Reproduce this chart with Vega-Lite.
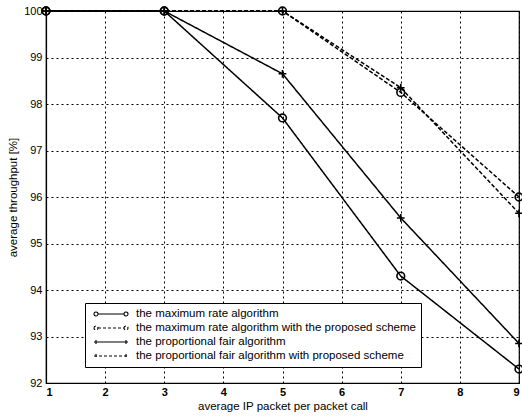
{
  "$schema": "https://vega.github.io/schema/vega-lite/v6.json",
  "autosize": "none",
  "width": 473,
  "height": 372,
  "padding": {"left": 46, "top": 11, "right": 3, "bottom": 37},
  "background": "white",
  "config": {
    "font": "Liberation Sans",
    "view": {"stroke": "black", "strokeWidth": 1.2},
    "axis": {
      "labelFont": "Liberation Sans",
      "titleFont": "Liberation Sans",
      "labelFontSize": 11,
      "titleFontSize": 11.5,
      "titleFontWeight": "normal",
      "labelColor": "black",
      "titleColor": "black",
      "domainColor": "black",
      "domainWidth": 1.2,
      "grid": true,
      "gridColor": "black",
      "gridOpacity": 1,
      "gridDash": [2, 3],
      "gridWidth": 1,
      "ticks": false
    }
  },
  "data": {
    "values": [
      {"series": "the maximum rate algorithm", "x": 1, "y": 100},
      {"series": "the maximum rate algorithm", "x": 3, "y": 100},
      {"series": "the maximum rate algorithm", "x": 5, "y": 97.7},
      {"series": "the maximum rate algorithm", "x": 7, "y": 94.3},
      {"series": "the maximum rate algorithm", "x": 9, "y": 92.3},
      {"series": "the maximum rate algorithm with the proposed scheme", "x": 1, "y": 100},
      {"series": "the maximum rate algorithm with the proposed scheme", "x": 3, "y": 100},
      {"series": "the maximum rate algorithm with the proposed scheme", "x": 5, "y": 100},
      {"series": "the maximum rate algorithm with the proposed scheme", "x": 7, "y": 98.25},
      {"series": "the maximum rate algorithm with the proposed scheme", "x": 9, "y": 96.0},
      {"series": "the proportional fair algorithm", "x": 1, "y": 100},
      {"series": "the proportional fair algorithm", "x": 3, "y": 100},
      {"series": "the proportional fair algorithm", "x": 5, "y": 98.65},
      {"series": "the proportional fair algorithm", "x": 7, "y": 95.55},
      {"series": "the proportional fair algorithm", "x": 9, "y": 92.85},
      {"series": "the proportional fair algorithm with proposed scheme", "x": 1, "y": 100},
      {"series": "the proportional fair algorithm with proposed scheme", "x": 3, "y": 100},
      {"series": "the proportional fair algorithm with proposed scheme", "x": 5, "y": 100},
      {"series": "the proportional fair algorithm with proposed scheme", "x": 7, "y": 98.35},
      {"series": "the proportional fair algorithm with proposed scheme", "x": 9, "y": 95.65}
    ]
  },
  "encoding": {
    "x": {
      "field": "x", "type": "quantitative",
      "scale": {"domain": [1, 9], "nice": false, "zero": false},
      "axis": {"values": [1, 2, 3, 4, 5, 6, 7, 8, 9], "title": "average IP packet per packet call", "labelPadding": 3, "titlePadding": 3, "labelFontWeight": "bold"}
    },
    "y": {
      "field": "y", "type": "quantitative",
      "scale": {"domain": [92, 100], "nice": false, "zero": false},
      "axis": {"values": [92, 93, 94, 95, 96, 97, 98, 99, 100], "title": "average throughput [%]", "labelPadding": 4, "titlePadding": 5}
    }
  },
  "layer": [
    {
      "mark": {"type": "line", "color": "black", "strokeWidth": 1.5},
      "encoding": {
        "detail": {"field": "series"},
        "strokeDash": {
          "field": "series", "type": "nominal",
          "scale": {
            "domain": ["the maximum rate algorithm", "the maximum rate algorithm with the proposed scheme", "the proportional fair algorithm", "the proportional fair algorithm with proposed scheme"],
            "range": [[1, 0], [4, 2], [1, 0], [4, 2]]
          },
          "legend": null
        }
      }
    },
    {
      "mark": {"type": "point", "color": "black", "filled": false, "strokeWidth": 1.6, "opacity": 1},
      "encoding": {
        "shape": {
          "field": "series", "type": "nominal",
          "scale": {
            "domain": ["the maximum rate algorithm", "the maximum rate algorithm with the proposed scheme", "the proportional fair algorithm", "the proportional fair algorithm with proposed scheme"],
            "range": ["circle", "circle", "M-1,0L1,0M0,-1L0,1", "M-1,0L1,0M0,-1L0,1"]
          },
          "legend": null
        },
        "size": {"value": 60}
      }
    },
    {
      "transform": [{"filter": "datum.x > 100"}],
      "mark": {"type": "point", "color": "black", "filled": false, "strokeWidth": 1.1, "opacity": 1},
      "encoding": {
        "shape": {
          "field": "series", "type": "nominal",
          "scale": {
            "domain": ["the maximum rate algorithm", "the maximum rate algorithm with the proposed scheme", "the proportional fair algorithm", "the proportional fair algorithm with proposed scheme"],
            "range": [
              "M0.4,0L5.6,0M-0.4,0A0.4,0.4 0 1,1 0.4,0A0.4,0.4 0 1,1 -0.4,0M5.6,0A0.4,0.4 0 1,1 6.4,0A0.4,0.4 0 1,1 5.6,0",
              "M0.4,0L5.6,0M-0.4,0A0.4,0.4 0 1,1 0.4,0A0.4,0.4 0 1,1 -0.4,0M5.6,0A0.4,0.4 0 1,1 6.4,0A0.4,0.4 0 1,1 5.6,0",
              "M-0.4,0L6.4,0M0,-0.4L0,0.4M6,-0.4L6,0.4",
              "M-0.4,0L6.4,0M0,-0.4L0,0.4M6,-0.4L6,0.4"
            ]
          },
          "legend": {
            "title": null,
            "orient": "none",
            "legendX": 39,
            "legendY": 292,
            "direction": "vertical",
            "symbolSize": 100,
            "symbolStrokeWidth": 1.1,
            "symbolStrokeColor": "black",
            "symbolFillColor": "transparent",
            "labelFont": "Liberation Sans",
            "labelFontSize": 11.5,
            "labelColor": "black",
            "labelOffset": 34,
            "labelLimit": 400,
            "rowPadding": 2,
            "padding": 5,
            "strokeColor": "black",
            "fillColor": "white",
            "offset": 0
          }
        },
        "strokeDash": {
          "field": "series", "type": "nominal",
          "scale": {
            "domain": ["the maximum rate algorithm", "the maximum rate algorithm with the proposed scheme", "the proportional fair algorithm", "the proportional fair algorithm with proposed scheme"],
            "range": [[1, 0], [3, 2], [1, 0], [3, 2]]
          }
        }
      }
    }
  ],
  "resolve": {"scale": {"shape": "independent", "strokeDash": "independent"}}
}
